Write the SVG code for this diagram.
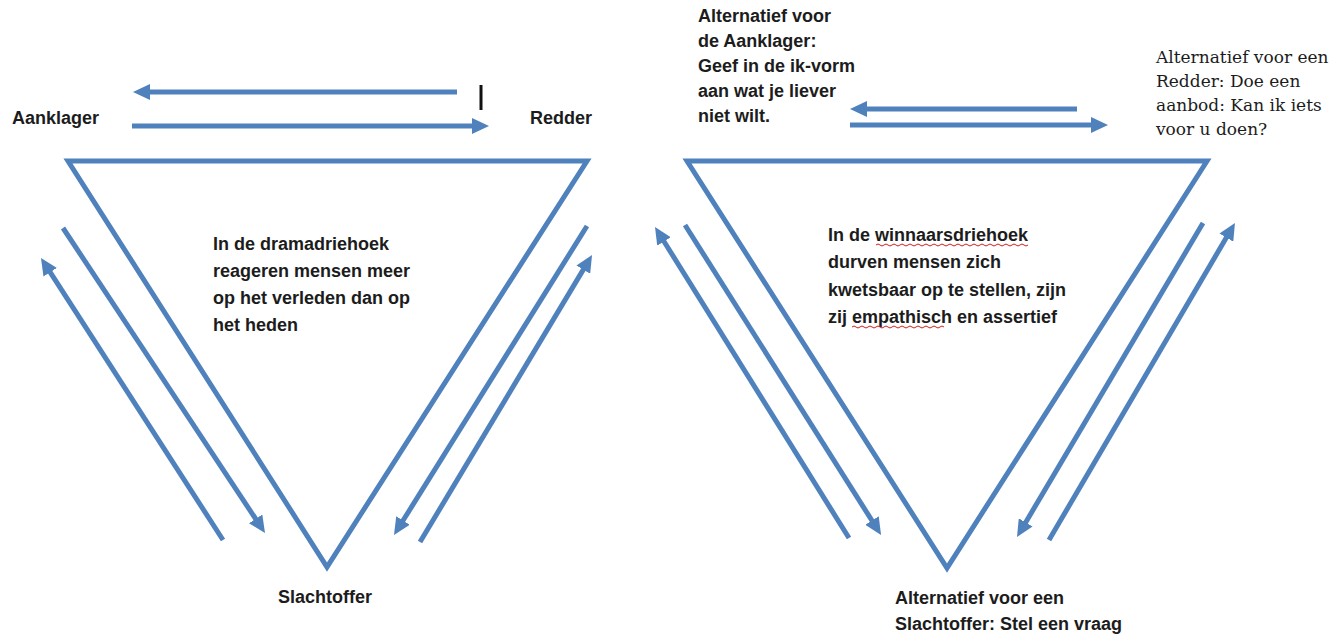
<svg xmlns="http://www.w3.org/2000/svg" width="1343" height="635" viewBox="0 0 1343 635">
<style>
.tri{fill:none;stroke:#4f81bd;stroke-width:5;stroke-linejoin:miter}
.ar{fill:none;stroke:#4f81bd;stroke-width:5;marker-end:url(#ah)}
.t{font-family:"Liberation Sans",Arial,sans-serif;font-weight:bold;font-size:18px;fill:#1c1c1c}
.s{font-family:"DejaVu Serif","Liberation Serif",serif;font-size:17px;fill:#1c1c1c}
.sq{fill:none;stroke:#d02020;stroke-width:1}
</style>
<defs>
<marker id="ah" markerUnits="userSpaceOnUse" markerWidth="17" markerHeight="16" refX="7" refY="8" orient="auto">
<path d="M0,0 L17,8 L0,16 z" fill="#4f81bd"/>
</marker>
</defs>
<rect width="1343" height="635" fill="#ffffff"/>

<g id="drama-triangle">
<polygon class="tri" points="68,161 587,161 327,567"/>
</g>
<g id="winnaars-triangle">
<polygon class="tri" points="687,161 1207,161 947,568"/>
</g>

<g id="node-aanklager"><text class="t" x="12" y="124">Aanklager</text></g>
<g id="node-redder"><text class="t" x="530" y="124">Redder</text></g>
<g id="node-slachtoffer"><text class="t" x="325" y="603" text-anchor="middle">Slachtoffer</text></g>
<g id="note-drama">
<text class="t" x="213" y="250">In de dramadriehoek</text>
<text class="t" x="213" y="277">reageren mensen meer</text>
<text class="t" x="213" y="304">op het verleden dan op</text>
<text class="t" x="213" y="331">het heden</text>
</g>

<g id="node-alt-aanklager">
<text class="t" x="698" y="22">Alternatief voor</text>
<text class="t" x="698" y="47">de Aanklager:</text>
<text class="t" x="698" y="72">Geef in de ik-vorm</text>
<text class="t" x="698" y="97">aan wat je liever</text>
<text class="t" x="698" y="122">niet wilt.</text>
</g>
<g id="node-alt-redder">
<text class="s" x="1156" y="63">Alternatief voor een</text>
<text class="s" x="1156" y="87">Redder: Doe een</text>
<text class="s" x="1156" y="111">aanbod: Kan ik iets</text>
<text class="s" x="1156" y="135">voor u doen?</text>
</g>
<g id="node-alt-slachtoffer">
<text class="t" x="895" y="604">Alternatief voor een</text>
<text class="t" x="895" y="630">Slachtoffer: Stel een vraag</text>
</g>
<g id="note-winnaars">
<text class="t" x="828" y="241">In de winnaarsdriehoek</text>
<text class="t" x="828" y="268">durven mensen zich</text>
<text class="t" x="828" y="296">kwetsbaar op te stellen, zijn</text>
<text class="t" x="828" y="323">zij empathisch en assertief</text>
<path class="sq" d="M876,245 q2,-2 4,0 t4,0 t4,0 t4,0 t4,0 t4,0 t4,0 t4,0 t4,0 t4,0 t4,0 t4,0 t4,0 t4,0 t4,0 t4,0 t4,0 t4,0 t4,0 t4,0 t4,0 t4,0 t4,0 t4,0 t4,0 t4,0 t4,0 t4,0 t4,0 t4,0 t4,0 t4,0 t4,0 t4,0 t4,0 t4,0 t4,0 t4,0"/>
<path class="sq" d="M852,327 q2,-2 4,0 t4,0 t4,0 t4,0 t4,0 t4,0 t4,0 t4,0 t4,0 t4,0 t4,0 t4,0 t4,0 t4,0 t4,0 t4,0 t4,0 t4,0 t4,0 t4,0 t4,0 t4,0 t4,0"/>
</g>

<g id="connectors">
<line class="ar" x1="457" y1="92" x2="143" y2="92"/>
<line class="ar" x1="132" y1="126" x2="479" y2="126"/>
<line x1="481" y1="85" x2="481" y2="110" stroke="#111" stroke-width="3"/>
<line class="ar" x1="223" y1="540" x2="46.4" y2="266.4"/>
<line class="ar" x1="63" y1="228" x2="259.5" y2="524.7"/>
<line class="ar" x1="587" y1="226" x2="399.3" y2="526.5"/>
<line class="ar" x1="420" y1="542" x2="586.9" y2="263.6"/>

<line class="ar" x1="1077" y1="109" x2="860" y2="109"/>
<line class="ar" x1="850" y1="125" x2="1098" y2="125"/>
<line class="ar" x1="849" y1="538" x2="660.3" y2="235.5"/>
<line class="ar" x1="685" y1="225" x2="875.7" y2="526.5"/>
<line class="ar" x1="1203" y1="223" x2="1022.1" y2="528.4"/>
<line class="ar" x1="1049" y1="540" x2="1229.9" y2="231.6"/>
</g>
</svg>
